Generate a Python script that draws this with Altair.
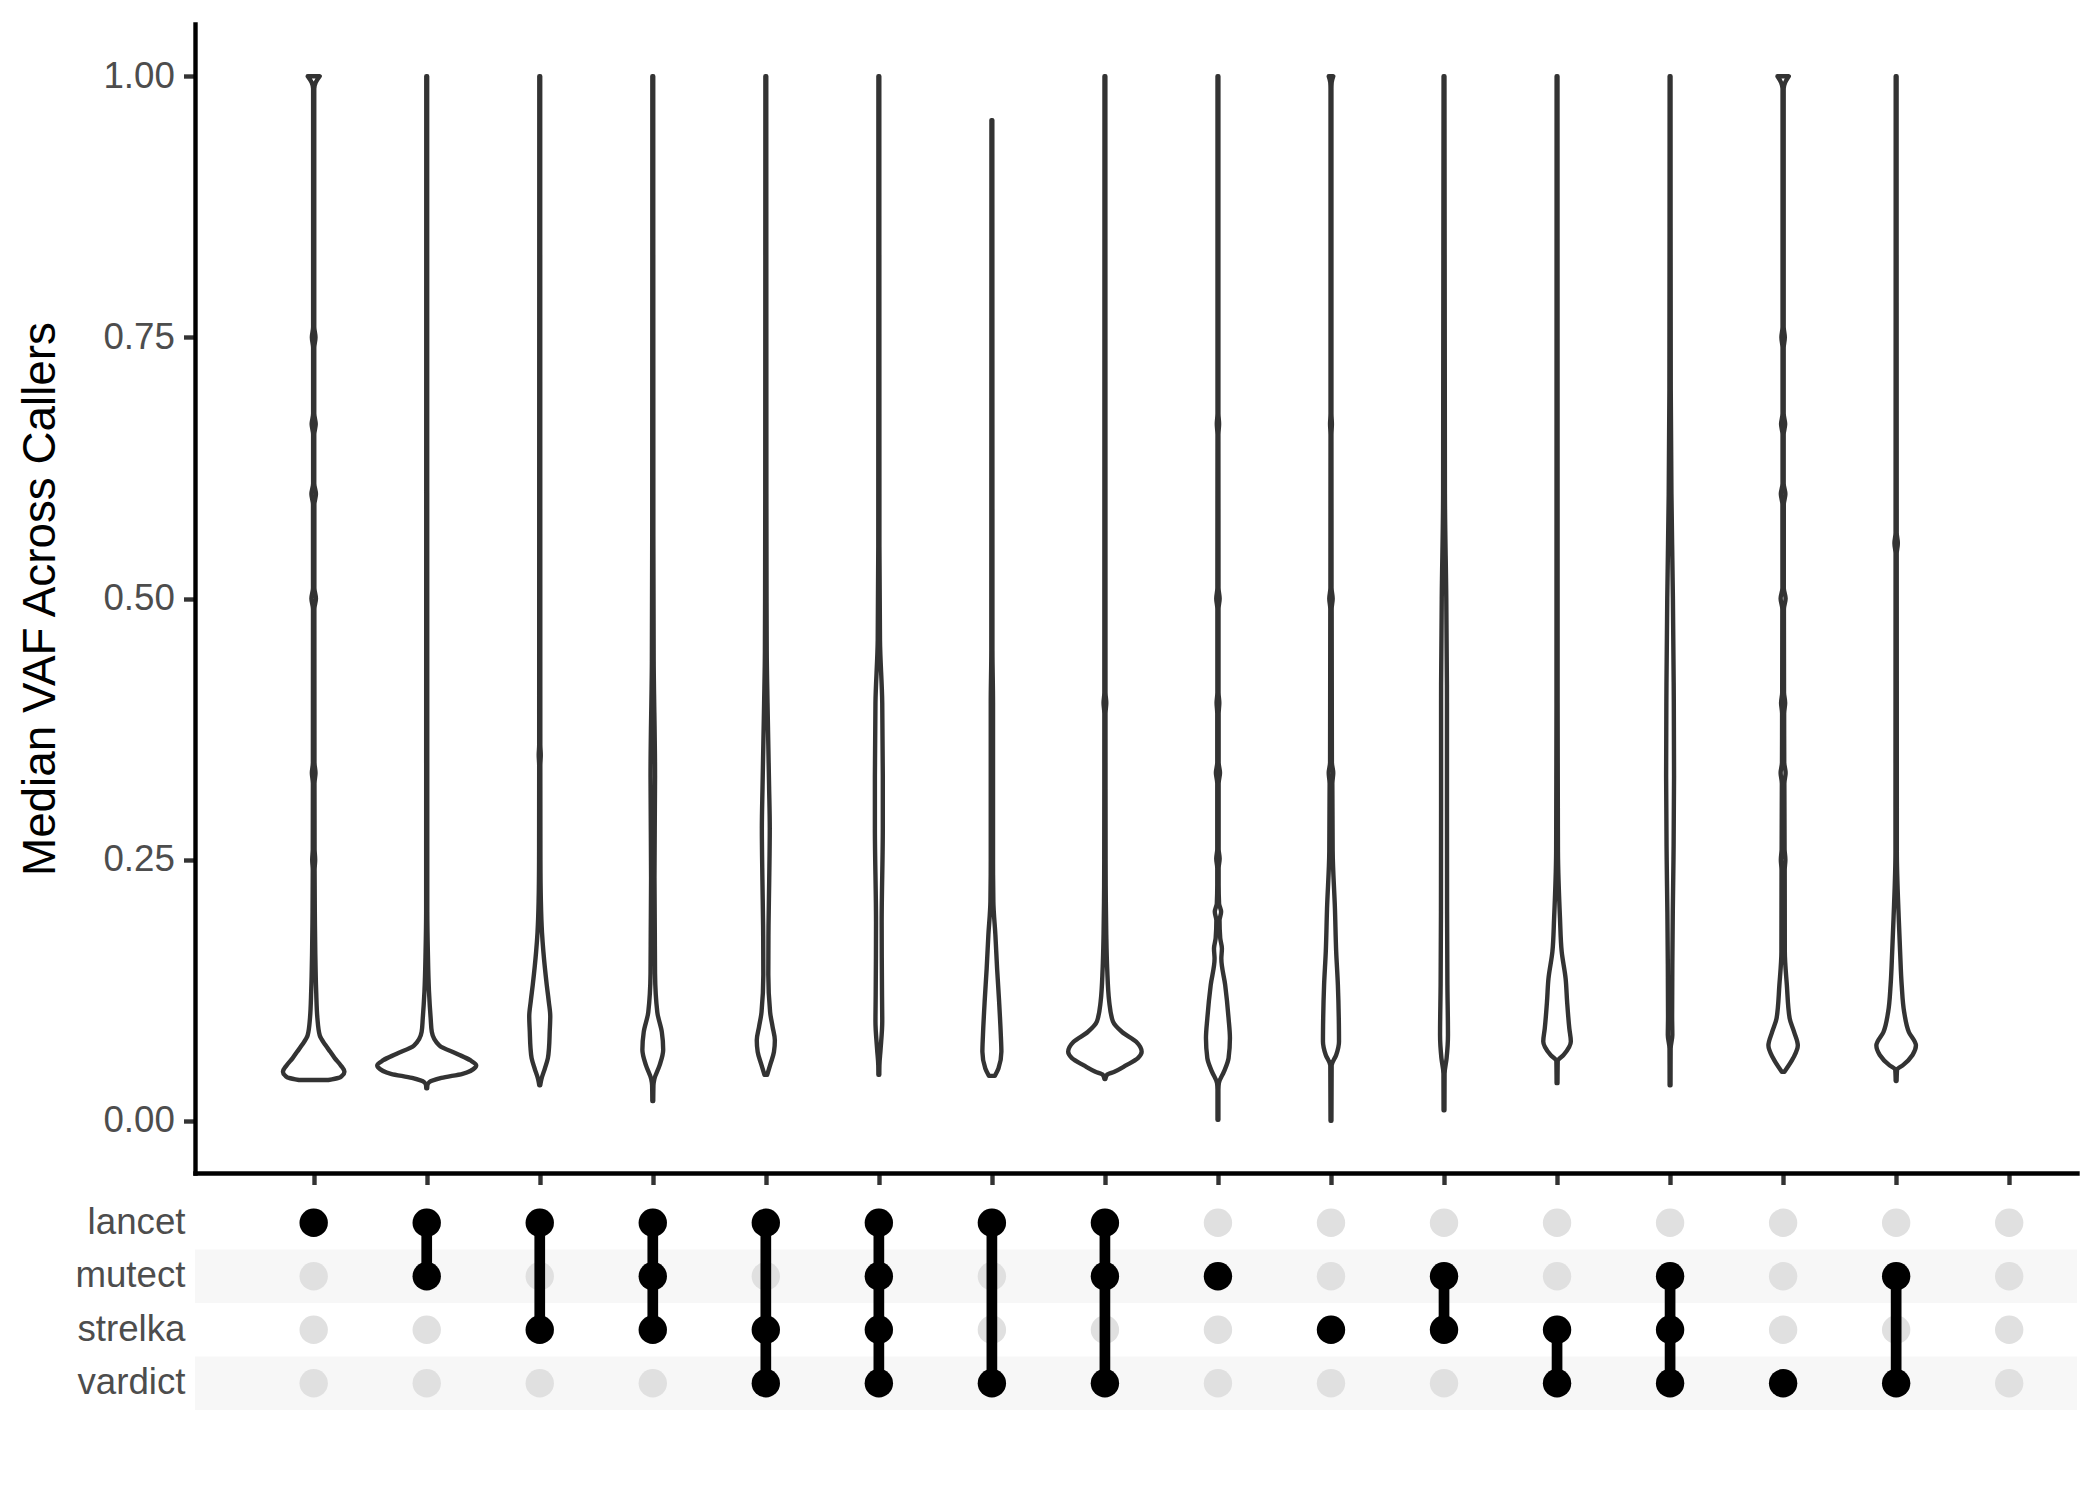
import altair as alt
import pandas as pd

FONT = "Liberation Sans"

CALLERS = ["lancet", "mutect", "strelka", "vardict"]
COMBINATIONS = [
    ["lancet"],
    ["lancet", "mutect"],
    ["lancet", "strelka"],
    ["lancet", "mutect", "strelka"],
    ["lancet", "strelka", "vardict"],
    ["lancet", "mutect", "strelka", "vardict"],
    ["lancet", "vardict"],
    ["lancet", "mutect", "vardict"],
    ["mutect"],
    ["strelka"],
    ["mutect", "strelka"],
    ["strelka", "vardict"],
    ["mutect", "strelka", "vardict"],
    ["vardict"],
    ["mutect", "vardict"],
    [],
]
Y_TICKS = [0.0, 0.25, 0.5, 0.75, 1.0]

# Violin profiles: (median VAF, half width as a fraction of one column)
V01 = [(1.000, 0.053), (0.994, 0.018), (0.988, 0.005),
       (0.760, 0.005), (0.750, 0.016), (0.740, 0.005),
       (0.677, 0.005), (0.667, 0.018), (0.657, 0.005),
       (0.610, 0.005), (0.600, 0.020), (0.590, 0.006),
       (0.510, 0.006), (0.500, 0.020), (0.490, 0.006),
       (0.343, 0.007), (0.333, 0.016), (0.323, 0.007),
       (0.260, 0.008), (0.250, 0.013), (0.240, 0.008),
       (0.200, 0.010), (0.162, 0.014), (0.124, 0.022), (0.098, 0.033), (0.082, 0.053),
       (0.0725, 0.104), (0.066, 0.147), (0.060, 0.186), (0.053, 0.240), (0.047, 0.272),
       (0.043, 0.250), (0.041, 0.220), (0.039, 0.130)]
V02 = [(1.000, 0.004), (0.200, 0.005), (0.162, 0.010), (0.124, 0.020), (0.098, 0.035),
       (0.085, 0.045), (0.072, 0.113), (0.064, 0.270), (0.058, 0.384), (0.053, 0.438),
       (0.051, 0.429), (0.045, 0.317), (0.041, 0.130), (0.037, 0.023), (0.034, 0.006),
       (0.031, 0.004)]
V03 = [(1.000, 0.004), (0.360, 0.005), (0.350, 0.009), (0.340, 0.005), (0.250, 0.006),
       (0.210, 0.010), (0.180, 0.020), (0.162, 0.032), (0.130, 0.062), (0.114, 0.080),
       (0.100, 0.093), (0.085, 0.088), (0.070, 0.082), (0.060, 0.072), (0.050, 0.045),
       (0.040, 0.015), (0.034, 0.004)]
V04 = [(1.000, 0.004), (0.560, 0.005), (0.440, 0.008), (0.330, 0.020), (0.233, 0.015),
       (0.180, 0.018), (0.141, 0.020), (0.104, 0.040), (0.085, 0.080), (0.068, 0.092),
       (0.053, 0.060), (0.040, 0.014), (0.034, 0.006), (0.019, 0.004)]
V05 = [(1.000, 0.004), (0.600, 0.005), (0.450, 0.008), (0.400, 0.015), (0.320, 0.029),
       (0.280, 0.035), (0.230, 0.030), (0.187, 0.024), (0.140, 0.022), (0.104, 0.038),
       (0.090, 0.060), (0.077, 0.080), (0.066, 0.072), (0.054, 0.040), (0.044, 0.012)]
V06 = [(1.000, 0.004), (0.550, 0.005), (0.460, 0.010), (0.400, 0.030), (0.330, 0.035),
       (0.280, 0.035), (0.190, 0.025), (0.120, 0.028), (0.095, 0.030), (0.068, 0.015),
       (0.053, 0.005), (0.044, 0.004)]
V07 = [(0.958, 0.004), (0.450, 0.005), (0.400, 0.010), (0.300, 0.010), (0.250, 0.010),
       (0.210, 0.013), (0.178, 0.031), (0.146, 0.046), (0.114, 0.064), (0.082, 0.079),
       (0.066, 0.084), (0.050, 0.058), (0.043, 0.026)]
V08 = [(1.000, 0.004), (0.410, 0.005), (0.400, 0.012), (0.390, 0.005), (0.250, 0.006),
       (0.210, 0.008), (0.178, 0.012), (0.146, 0.020), (0.114, 0.038), (0.095, 0.071),
       (0.085, 0.152), (0.0756, 0.277), (0.066, 0.325), (0.060, 0.292), (0.053, 0.186),
       (0.047, 0.084), (0.044, 0.018), (0.040, 0.004)]
V09 = [(1.000, 0.004), (0.677, 0.004), (0.667, 0.010), (0.657, 0.004),
       (0.510, 0.005), (0.500, 0.015), (0.490, 0.005),
       (0.410, 0.005), (0.400, 0.012), (0.390, 0.006),
       (0.343, 0.006), (0.333, 0.018), (0.323, 0.006),
       (0.260, 0.006), (0.251, 0.015), (0.242, 0.006), (0.226, 0.006),
       (0.208, 0.010), (0.200, 0.028), (0.192, 0.014),
       (0.175, 0.020), (0.165, 0.035), (0.155, 0.030),
       (0.130, 0.064), (0.098, 0.094), (0.079, 0.106), (0.060, 0.094), (0.047, 0.053),
       (0.036, 0.008), (0.030, 0.004), (0.001, 0.004)]
V10 = [(1.000, 0.020), (0.994, 0.006), (0.988, 0.004),
       (0.677, 0.004), (0.667, 0.008), (0.657, 0.004),
       (0.510, 0.005), (0.500, 0.015), (0.490, 0.006),
       (0.343, 0.008), (0.333, 0.020), (0.323, 0.012),
       (0.258, 0.015), (0.203, 0.035), (0.162, 0.046), (0.130, 0.061), (0.098, 0.069),
       (0.076, 0.071), (0.063, 0.046), (0.053, 0.006), (0.000, 0.004)]
V11 = [(1.000, 0.004), (0.600, 0.008), (0.500, 0.020), (0.400, 0.026), (0.300, 0.026),
       (0.200, 0.027), (0.130, 0.030), (0.082, 0.035), (0.060, 0.023), (0.045, 0.005),
       (0.010, 0.004)]
V12 = [(1.000, 0.004), (0.400, 0.005), (0.300, 0.007), (0.258, 0.008), (0.194, 0.026),
       (0.162, 0.041), (0.136, 0.076), (0.114, 0.089), (0.088, 0.109), (0.076, 0.122),
       (0.063, 0.058), (0.057, 0.006), (0.036, 0.004)]
V13 = [(1.000, 0.004), (0.700, 0.006), (0.600, 0.012), (0.500, 0.025), (0.400, 0.033),
       (0.330, 0.035), (0.250, 0.030), (0.200, 0.024), (0.150, 0.020), (0.100, 0.018),
       (0.082, 0.020), (0.069, 0.005), (0.034, 0.004)]
V14 = [(1.000, 0.050), (0.994, 0.018), (0.988, 0.005),
       (0.760, 0.005), (0.750, 0.015), (0.740, 0.005),
       (0.677, 0.005), (0.667, 0.018), (0.657, 0.005),
       (0.610, 0.005), (0.600, 0.020), (0.590, 0.006),
       (0.510, 0.006), (0.500, 0.022), (0.490, 0.007),
       (0.410, 0.008), (0.400, 0.018), (0.390, 0.009),
       (0.343, 0.010), (0.333, 0.022), (0.323, 0.011),
       (0.260, 0.013), (0.250, 0.020), (0.240, 0.014),
       (0.162, 0.015), (0.130, 0.033), (0.098, 0.058), (0.085, 0.097), (0.072, 0.130),
       (0.060, 0.089), (0.047, 0.012)]
V15 = [(1.000, 0.004), (0.563, 0.005), (0.553, 0.015), (0.543, 0.005), (0.300, 0.006),
       (0.258, 0.006), (0.194, 0.023), (0.162, 0.035), (0.130, 0.049), (0.104, 0.071),
       (0.085, 0.112), (0.072, 0.175), (0.063, 0.145), (0.053, 0.058), (0.049, 0.008),
       (0.038, 0.004)]
VIOLINS = [V01, V02, V03, V04, V05, V06, V07, V08, V09, V10, V11, V12, V13, V14, V15]

# ---- tables built from the arrays above ----
vrows = []
for i, prof in enumerate(VIOLINS):
    pos = i + 1
    for v, w in sorted(prof):
        vrows.append({"combo": f"c{pos:02d}", "pos": pos, "vaf": v,
                      "lo": pos - w, "hi": pos + w})
violin_df = pd.DataFrame(vrows)

grid_df = pd.DataFrame([{"pos": i + 1, "caller": c}
                        for i in range(len(COMBINATIONS)) for c in CALLERS])
on_df = pd.DataFrame([{"pos": i + 1, "caller": c}
                      for i, comb in enumerate(COMBINATIONS) for c in comb])
link_df = pd.DataFrame([{"pos": i + 1, "top": comb[0], "bottom": comb[-1]}
                        for i, comb in enumerate(COMBINATIONS) if len(comb) > 1])
stripe_df = pd.DataFrame({"caller": [CALLERS[1], CALLERS[3]]})

W = 1882
H_TOP = 1149
H_MAT = 214
x_scale = alt.Scale(domain=[-0.05, 16.6], nice=False, zero=False)

violin = alt.Chart(violin_df).mark_area(
    orient="horizontal", interpolate="monotone", fill="white",
    stroke="#333333", strokeWidth=4.4, strokeJoin="round"
).encode(
    y=alt.Y("vaf:Q",
            scale=alt.Scale(domain=[-0.05, 1.05], nice=False, zero=False),
            axis=alt.Axis(values=Y_TICKS, format=".2f", grid=False,
                          title="Median VAF Across Callers",
                          titleFontSize=45.8, titleColor="black", titleFontWeight="normal",
                          titleFont=FONT, titleAngle=270, titleX=-155, titleY=H_TOP / 2,
                          titleAlign="center", titleBaseline="middle",
                          labelFontSize=36.7, labelColor="#4D4D4D", labelFont=FONT,
                          labelPadding=9.2, tickSize=11.5, tickWidth=4.4,
                          tickColor="#333333", domainColor="black", domainWidth=4.4,
                          domainCap="square")),
    x=alt.X("lo:Q", scale=x_scale,
            axis=alt.Axis(values=list(range(1, 17)), labels=False, title=None, grid=False,
                          tickSize=11.5, tickWidth=4.4, tickColor="#333333",
                          domainColor="black", domainWidth=4.4, domainCap="square")),
    x2="hi:Q",
    detail="combo:N",
).properties(width=W, height=H_TOP)

y_mat = alt.Scale(type="band", domain=CALLERS, paddingInner=0, paddingOuter=0)
y_axis = alt.Axis(title=None, ticks=False, domain=False, labelFontSize=36.7,
                  labelColor="#4D4D4D", labelFont=FONT, labelPadding=10, grid=False)

stripes = alt.Chart(stripe_df).mark_rect(color="#F7F7F7").encode(
    y=alt.Y("caller:N", scale=y_mat, axis=y_axis),
    x=alt.value(0), x2=alt.value("width"),
)
grey_dots = alt.Chart(grid_df).mark_circle(size=804, color="#E0E0E0", opacity=1).encode(
    x=alt.X("pos:Q", scale=x_scale, axis=None),
    y=alt.Y("caller:N", scale=y_mat, axis=y_axis),
)
links = alt.Chart(link_df).mark_rule(color="black", strokeWidth=10.7).encode(
    x=alt.X("pos:Q", scale=x_scale, axis=None),
    y=alt.Y("top:N", scale=y_mat, axis=y_axis),
    y2="bottom:N",
)
black_dots = alt.Chart(on_df).mark_circle(size=804, color="black", opacity=1).encode(
    x=alt.X("pos:Q", scale=x_scale, axis=None),
    y=alt.Y("caller:N", scale=y_mat, axis=y_axis),
)
matrix = alt.layer(stripes, grey_dots, links, black_dots).properties(width=W, height=H_MAT)

chart = alt.vconcat(violin, matrix, spacing=23, bounds="flush").properties(
    padding={"left": 17, "top": 24, "right": 5, "bottom": 5},
    background="white",
).configure_view(strokeWidth=0)

chart.save("out.html", embed_options={"renderer": "svg", "actions": False})
